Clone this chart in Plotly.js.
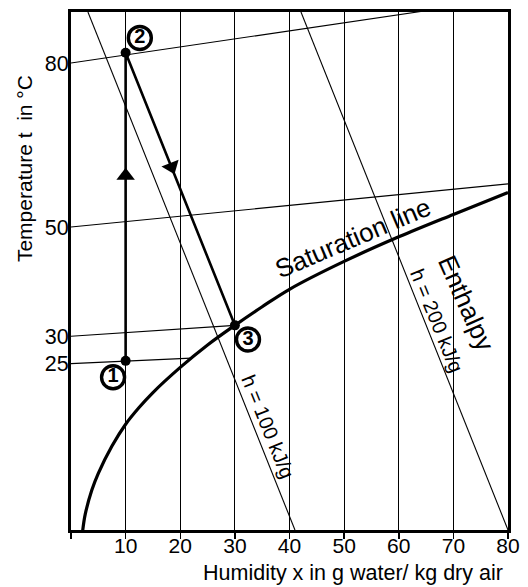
<!DOCTYPE html>
<html>
<head>
<meta charset="utf-8">
<script src="https://cdn.plot.ly/plotly-3.0.1.min.js"></script>
<style>html,body{margin:0;padding:0;background:#fff;}#chart{width:528px;height:587px;}</style>
</head>
<body>
<div id="chart"></div>
<script>
// ---- data ----
const xTickVals = [0, 10, 20, 30, 40, 50, 60, 70, 80];
const xTickText = ['', '10', '20', '30', '40', '50', '60', '70', '80'];
const yTickVals = [25, 30, 50, 80];
const yTickText = ['25', '30', '50', '80'];

// isotherms (t = const), drawn from x = 0 to their end point
const isoTemps = [25, 30, 50, 80];
const isoEndX  = [22.0, 30, 80, 80];
const isoEndT  = [26.0, 32.0, 57.9, 91.8];

// saturation line
const satX = [2.15, 2.6, 3.8, 5.0, 7.5, 10, 12.5, 15, 20, 25, 30, 35, 40, 50, 60, 70, 80];
const satT = [-5.5, -2.6, 1.8, 4.9, 9.9, 13.9, 17.0, 19.7, 24.3, 28.4, 32.0, 35.4, 38.6, 43.7, 48.2, 52.3, 56.3];

// enthalpy lines h = 100 and h = 200 kJ/g
const enthalpyLabels = ['h = 100 kJ/g', 'h = 200 kJ/g'];
const enthalpyTopX    = [3.1, 42.1];
const enthalpyBottomX = [41.0, 80.0];
const enthalpyTopT    = 89.35;
const enthalpyBottomT = -5.46;

// process states 1 -> 2 -> 3
const stateNames = ['1', '2', '3'];
const stateX = [10, 10, 30];
const stateT = [25.5, 81.9, 32.0];
const stateLabelX = [7.7, 12.6, 32.4];
const stateLabelT = [22.5, 84.6, 29.4];

// arrow heads on the process lines
const arrowX = [10, 18.4];
const arrowT = [59.4, 61.0];
const arrowAngle = [0, -21.8];
const arrowSymbol = ['triangle-up', 'triangle-down'];

// ---- traces ----
const FONT = 'Liberation Sans, Arial, Helvetica, sans-serif';
const traces = [];

isoTemps.forEach((t, i) => {
  traces.push({x: [0, isoEndX[i]], y: [t, isoEndT[i]], mode: 'lines',
    line: {color: '#000', width: 1.1}, hoverinfo: 'skip', showlegend: false});
});

enthalpyTopX.forEach((xt, i) => {
  traces.push({x: [xt, enthalpyBottomX[i]], y: [enthalpyTopT, enthalpyBottomT], mode: 'lines',
    line: {color: '#000', width: 1.1}, hoverinfo: 'skip', showlegend: false});
});

traces.push({x: satX, y: satT, mode: 'lines', line: {color: '#000', width: 3.2, shape: 'spline', smoothing: 1},
  hoverinfo: 'skip', showlegend: false});

traces.push({x: stateX, y: stateT, mode: 'lines', line: {color: '#000', width: 2.6},
  hoverinfo: 'skip', showlegend: false});

traces.push({x: arrowX, y: arrowT, mode: 'markers',
  marker: {symbol: arrowSymbol, angle: arrowAngle, size: 16, color: '#000', line: {width: 0}},
  hoverinfo: 'skip', showlegend: false});

traces.push({x: stateX, y: stateT, mode: 'markers',
  marker: {symbol: 'circle', size: 10, color: '#000'}, hoverinfo: 'skip', showlegend: false});

traces.push({x: stateLabelX, y: stateLabelT, mode: 'markers+text', text: stateNames,
  textposition: 'middle center', textfont: {family: FONT, size: 20, color: '#000', weight: 'bold'},
  marker: {symbol: 'circle', size: 23, color: '#fff', line: {color: '#000', width: 3.4}},
  hoverinfo: 'skip', showlegend: false, cliponaxis: false});

// ---- layout ----
const layout = {
  width: 528, height: 587,
  margin: {l: 71, r: 20, t: 12, b: 57, pad: 0},
  paper_bgcolor: '#fff', plot_bgcolor: '#fff',
  font: {family: FONT, color: '#000'},
  showlegend: false,
  xaxis: {
    range: [0, 80], tickvals: xTickVals, ticktext: xTickText,
    ticks: 'outside', ticklen: 6, tickwidth: 1.5, tickcolor: '#000',
    ticklabelstandoff: -11,
    showline: true, linewidth: 3, linecolor: '#000', mirror: true,
    showgrid: true, gridcolor: '#000', gridwidth: 1.1, zeroline: false,
    tickfont: {family: FONT, size: 21, color: '#000'}, fixedrange: true
  },
  yaxis: {
    range: [-5.46, 89.35], tickvals: yTickVals, ticktext: yTickText,
    ticks: '', ticklabelstandoff: -5,
    showline: true, linewidth: 3, linecolor: '#000', mirror: true,
    showgrid: false, zeroline: false,
    tickfont: {family: FONT, size: 21.5, color: '#000'}, fixedrange: true
  },
  annotations: [
    {xref: 'paper', yref: 'paper', x: 0.646, y: -0.1095, xanchor: 'center', yanchor: 'bottom',
     text: 'Humidity x in g water/ kg dry air', showarrow: false, font: {family: FONT, size: 21.5, color: '#000'}},
    {xref: 'paper', yref: 'paper', x: -0.105, y: 0.697, xanchor: 'center', yanchor: 'middle', textangle: -90,
     text: 'Temperature t  in °C', showarrow: false, font: {family: FONT, size: 21, color: '#000'}},
    {xref: 'x', yref: 'y', x: 51.6, y: 47.9, text: 'Saturation line', textangle: -23, showarrow: false,
     font: {family: FONT, size: 26, color: '#000'}},
    {xref: 'x', yref: 'y', x: 72.3, y: 36.0, text: 'Enthalpy', textangle: 66, showarrow: false,
     font: {family: FONT, size: 26, color: '#000'}},
    {xref: 'x', yref: 'y', x: 67.0, y: 32.8, text: enthalpyLabels[1], textangle: 68, showarrow: false,
     font: {family: FONT, size: 20, color: '#000'}},
    {xref: 'x', yref: 'y', x: 36.1, y: 13.4, text: enthalpyLabels[0], textangle: 68, showarrow: false,
     font: {family: FONT, size: 20, color: '#000'}}
  ]
};

Plotly.newPlot('chart', traces, layout, {staticPlot: true, displayModeBar: false});
</script>
</body>
</html>
